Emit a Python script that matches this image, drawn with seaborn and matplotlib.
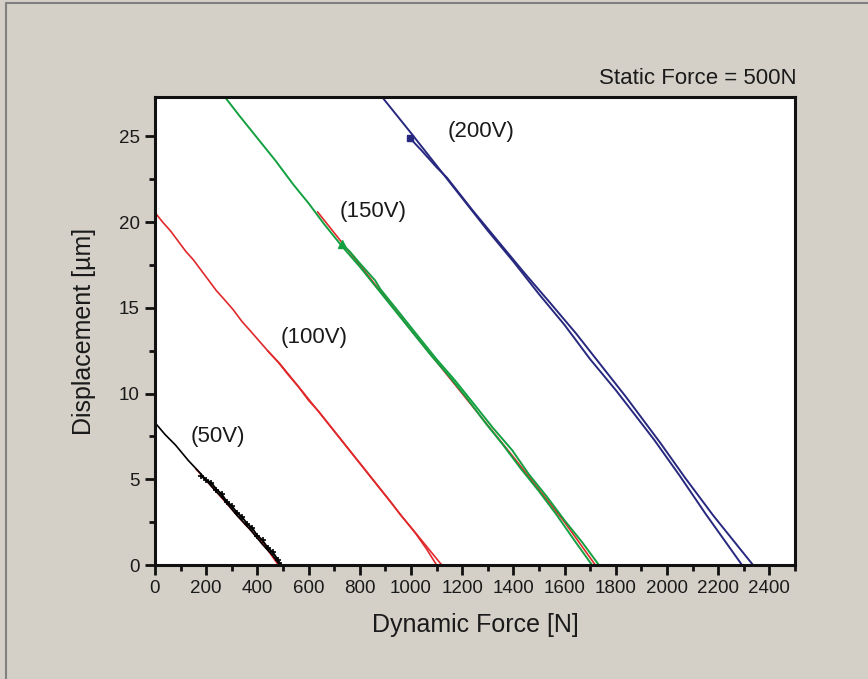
import matplotlib
matplotlib.use("Agg")
import matplotlib.pyplot as plt
from matplotlib.lines import Line2D
from matplotlib.ticker import MultipleLocator
import seaborn as sns

# ---- data ----
# 50 V
f50_a = [0, 40, 80, 130, 176, 220, 270, 320, 370, 420, 460, 488]
d50_a = [8.3, 7.6, 7.0, 6.1, 5.37, 4.6, 3.8, 2.9, 2.1, 1.2, 0.55, 0.0]
f50_b = [180, 200, 220, 240, 260, 280, 300, 320, 340, 360, 380, 400, 420, 440, 460, 480, 492]
d50_b = [5.2, 4.95, 4.8, 4.4, 4.15, 3.7, 3.45, 3.05, 2.8, 2.4, 2.15, 1.7, 1.45, 1.0, 0.75, 0.3, 0.0]
f50_r = [160, 250, 350, 420, 482]
d50_r = [5.6, 4.1, 2.4, 1.3, 0.0]

# 100 V
f100_a = [0, 30, 60, 95, 120, 150, 180, 210, 240, 270, 305, 340, 370, 405, 440, 490, 539,
          580, 620, 660, 700, 740, 780, 820, 860, 900, 940, 980, 1020, 1060, 1100]
d100_a = [20.56, 20.0, 19.5, 18.8, 18.3, 17.8, 17.2, 16.6, 16.0, 15.5, 14.9, 14.2, 13.7, 13.1,
          12.5, 11.7, 10.8, 10.05, 9.3, 8.55, 7.8, 7.05, 6.3, 5.55, 4.8, 4.05, 3.3, 2.55, 1.8, 0.95, 0.0]
f100_b = [440, 480, 520, 560, 600, 640, 680, 720, 760, 800, 840, 880, 920, 960, 1000, 1060, 1120]
d100_b = [12.5, 11.85, 11.1, 10.4, 9.6, 8.95, 8.2, 7.45, 6.7, 5.95, 5.2, 4.45, 3.7, 2.9, 2.2, 1.1, 0.0]

# 150 V
f150_a = [273, 330, 400, 470, 540, 600, 660, 730, 800, 870, 940, 1010, 1080, 1150, 1220,
          1290, 1360, 1430, 1500, 1570, 1640, 1707]
d150_a = [27.3, 26.2, 24.9, 23.6, 22.2, 21.1, 19.9, 18.6, 17.4, 16.1, 14.8, 13.5, 12.2, 11.0, 9.7,
          8.3, 7.0, 5.6, 4.3, 2.9, 1.4, 0.0]
f150_b = [730, 760, 800, 860, 880, 950, 1030, 1100, 1170, 1240, 1320, 1395, 1460, 1530, 1600, 1670, 1734]
d150_b = [18.7, 18.3, 17.6, 16.6, 16.1, 14.8, 13.3, 12.0, 10.8, 9.5, 8.0, 6.7, 5.3, 4.0, 2.6, 1.3, 0.0]
f150_r = [635, 800, 1000, 1200, 1400, 1600, 1720]
d150_r = [20.6, 17.5, 13.7, 10.0, 6.3, 2.5, 0.0]

# 200 V
f200_a = [887, 1000, 1100, 1200, 1300, 1400, 1500, 1600, 1700, 1800, 1883, 1950, 2050, 2150, 2293]
d200_a = [27.3, 25.2, 23.3, 21.4, 19.5, 17.7, 15.8, 14.0, 12.0, 10.2, 8.6, 7.3, 5.2, 3.0, 0.0]
f200_b = [996, 1040, 1100, 1140, 1240, 1345, 1445, 1543, 1645, 1745, 1840, 1905, 1975, 2070, 2180, 2336]
d200_b = [24.9, 24.2, 23.2, 22.6, 20.7, 18.8, 17.0, 15.3, 13.5, 11.6, 9.8, 8.5, 7.1, 5.1, 2.9, 0.0]

labels = ["(50V)", "(100V)", "(150V)", "(200V)"]
label_x = [246, 621, 852, 1273]
label_y = [7.5, 13.3, 20.6, 25.3]

BLACK = "#000000"
RED = "#e0282a"
GREEN = "#12a040"
NAVY = "#27287f"

sns.set_theme(style="white")
plt.rcParams["font.family"] = ["Liberation Sans", "DejaVu Sans"]

fig = plt.figure(figsize=(8.68, 6.79), dpi=100)
fig.patch.set_facecolor("#d4d0c8")
ax = fig.add_axes([155 / 868, 114 / 679, 640 / 868, 468 / 679])
ax.set_facecolor("white")

lw = 1.2
sns.lineplot(x=f100_a, y=d100_a, sort=False, estimator=None, color=RED, lw=lw, ax=ax)
sns.lineplot(x=f100_b, y=d100_b, sort=False, estimator=None, color=RED, lw=lw, ax=ax)
sns.lineplot(x=f50_r, y=d50_r, sort=False, estimator=None, color=RED, lw=lw, ax=ax)
sns.lineplot(x=f50_a, y=d50_a, sort=False, estimator=None, color=BLACK, lw=lw, ax=ax)
sns.lineplot(x=f50_b, y=d50_b, sort=False, estimator=None, color=BLACK, lw=1.4, ax=ax,
             marker="+", markersize=5, markeredgewidth=1.2, markeredgecolor=BLACK)
sns.lineplot(x=f150_r, y=d150_r, sort=False, estimator=None, color=RED, lw=lw, ax=ax)
sns.lineplot(x=f150_a, y=d150_a, sort=False, estimator=None, color=GREEN, lw=1.4, ax=ax)
sns.lineplot(x=f150_b, y=d150_b, sort=False, estimator=None, color=GREEN, lw=1.4, ax=ax)
sns.lineplot(x=f200_a, y=d200_a, sort=False, estimator=None, color=NAVY, lw=1.4, ax=ax)
sns.lineplot(x=f200_b, y=d200_b, sort=False, estimator=None, color=NAVY, lw=1.4, ax=ax)

# start markers
ax.plot([f150_b[0]], [d150_b[0]], marker="^", color=GREEN, markersize=6, ls="none")
ax.plot([f200_b[0]], [d200_b[0]], marker="s", color=NAVY, markersize=4, ls="none")

for t, x, y in zip(labels, label_x, label_y):
    ax.text(x, y, t, ha="center", va="center", fontsize=16, color="#1a1a1a")

ax.set_xlim(0, 2500)
ax.set_ylim(0, 27.3)
ax.xaxis.set_major_locator(MultipleLocator(200))
ax.xaxis.set_minor_locator(MultipleLocator(100))
ax.yaxis.set_major_locator(MultipleLocator(5))
ax.yaxis.set_minor_locator(MultipleLocator(2.5))
ax.tick_params(axis="both", which="major", direction="out", length=7, width=2,
               labelsize=13.5, color="#111111", labelcolor="#1a1a1a",
               bottom=True, left=True, top=False, right=False, pad=4)
ax.tick_params(axis="both", which="minor", direction="out", length=4, width=2,
               color="#111111", bottom=True, left=True, top=False, right=False)
for s in ax.spines.values():
    s.set_color("#111111")
    s.set_linewidth(2.2)

ax.set_xlabel("Dynamic Force [N]", fontsize=18, color="#1a1a1a", labelpad=11)
ax.set_ylabel("Displacement [µm]", fontsize=18, color="#1a1a1a", labelpad=16)

fig.text(797 / 868, 1 - 78 / 679, "Static Force = 500N", ha="right", va="center",
         fontsize=16, color="#1a1a1a")

# window border (top and left)
fig.add_artist(Line2D([6 / 868, 1.0], [1 - 3 / 679, 1 - 3 / 679], color="#808080", lw=1.5,
                      transform=fig.transFigure))
fig.add_artist(Line2D([6 / 868, 6 / 868], [0, 1 - 3 / 679], color="#808080", lw=1.5,
                      transform=fig.transFigure))

fig.savefig("out.png", dpi=100, facecolor=fig.get_facecolor())
